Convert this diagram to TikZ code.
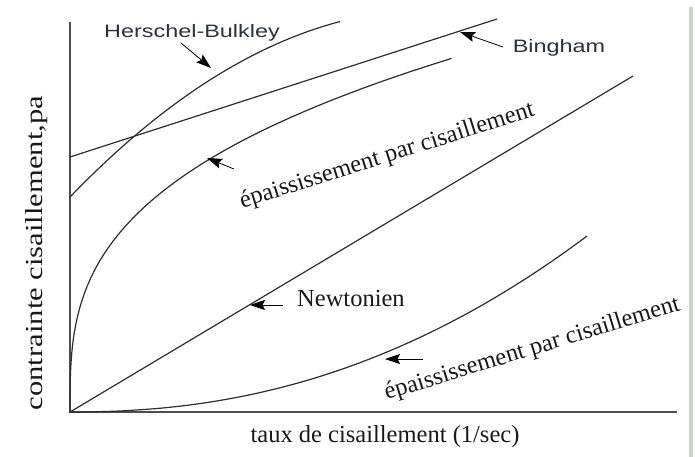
\documentclass[tikz,border=0pt]{standalone}
\usepackage{fontspec}
\setmainfont{Liberation Serif}
\newfontfamily\arialfont{Liberation Sans}
\usetikzlibrary{arrows.meta}
\definecolor{ink}{HTML}{2E2E2E}
\definecolor{slate}{HTML}{2A323C}
\definecolor{edgegreen}{HTML}{C9D6C9}
\tikzset{
  curve/.style={draw=ink, line width=1.2pt},
  axisline/.style={draw=ink!85, line width=1.3pt},
  pointer/.style={draw=black, line width=0.8pt, -{Stealth[length=15pt,width=10pt,inset=2.5pt]}},
  serlabel/.style={font=\fontsize{24.5}{26}\selectfont, text=black!90, inner sep=0pt},
  sanlabel/.style={font=\arialfont\fontsize{18}{20}\selectfont, text=slate, inner sep=0pt},
}
\begin{document}
\begin{tikzpicture}[x=1pt,y=-1pt]
\useasboundingbox (0,0) rectangle (695,457);
\fill[white] (0,0) rectangle (695,457);
% right edge strip
\fill[edgegreen] (689,7) rectangle (693,457);
% axes
\coordinate (O) at (70,412);
\coordinate (ytop) at (70,22);
\coordinate (xend) at (677,412);
\draw[axisline] (ytop) -- (O) -- (xend);
% Bingham
\coordinate (b0) at (70,157);
\coordinate (b1) at (497,19);
\draw[curve] (b0) -- (b1);
% Newtonian
\coordinate (n1) at (633,76);
\draw[curve] (O) -- (n1);
% Herschel-Bulkley
\draw[curve] plot[domain=0:270, samples=60, smooth] ({70+\x},{197-1.037*\x+0.00144*\x*\x});
% shear thinning
\draw[curve] plot[domain=0:1, samples=120, smooth] ({70+383*\x*\x*\x},{412-354*\x});
% shear thickening
\draw[curve] plot[domain=0:517, samples=80, smooth] ({70+\x},{412-176*(\x/517)^2.2});
% labels
\node[sanlabel] (hb) at (192,33) {\scalebox{1.3}[1]{Herschel-Bulkley}};
\node[sanlabel] (bing) at (559,48) {\scalebox{1.3}[1]{Bingham}};
\node[serlabel, anchor=west] (newt) at (297,299) {Newtonien};
\node[serlabel, anchor=base, rotate=17.5] (thin) at (389,162) {épaississement par cisaillement};
\node[serlabel, anchor=base, rotate=17] (thick) at (534,355) {épaississement par cisaillement};
\node[serlabel] (xlab) at (385,437) {taux de cisaillement (1/sec)};
\node[serlabel, rotate=90] (ylab) at (37,253) {\scalebox{1.25}[1]{contrainte cisaillement,pa}};
% pointers
\coordinate (hbtail) at (181,43);
\coordinate (hbtip) at (211,68);
\draw[pointer] (hbtail) -- (hbtip);
\coordinate (bgtail) at (503,47);
\coordinate (bgtip) at (460,32);
\draw[pointer] (bgtail) -- (bgtip);
\coordinate (thtail) at (234,169);
\coordinate (thtip) at (207,158);
\draw[pointer] (thtail) -- (thtip);
\coordinate (nwtail) at (283,305);
\coordinate (nwtip) at (250,305);
\draw[pointer] (nwtail) -- (nwtip);
\coordinate (tktail) at (423,359);
\coordinate (tktip) at (385,359);
\draw[pointer] (tktail) -- (tktip);
\end{tikzpicture}
\end{document}
